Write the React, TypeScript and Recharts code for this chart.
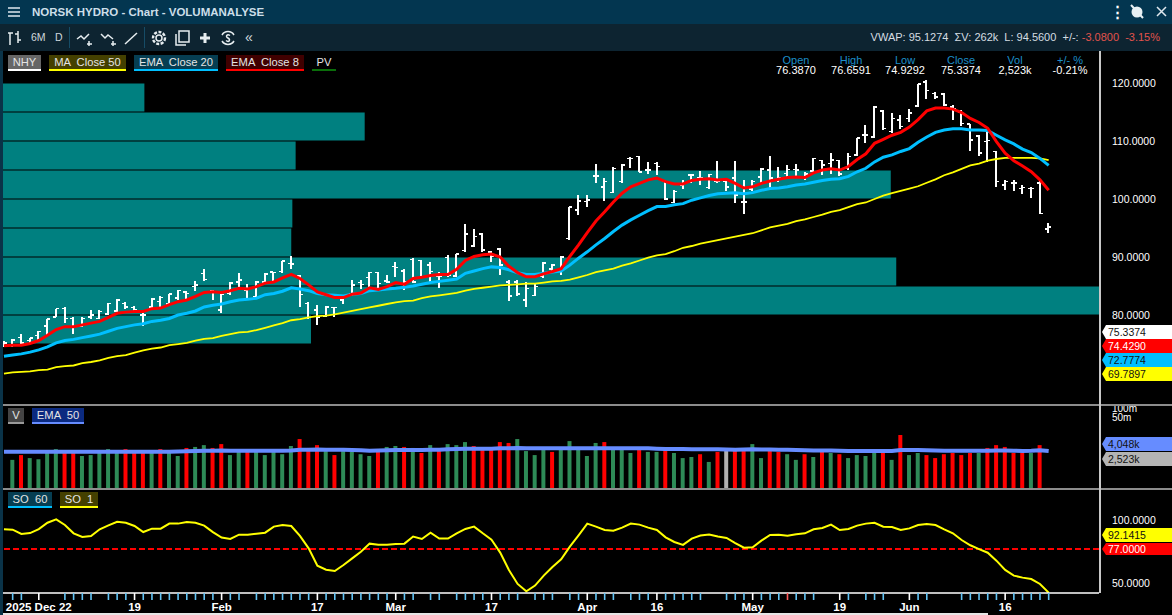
import { ComposedChart, XAxis, YAxis, Bar, Line, Cell, ReferenceArea, ReferenceLine } from 'recharts'

// Daily bars, index 0 is the first session on the left edge
const openPrices = [
  74.8, 74.8, 76.1, 75.6, 76.5, 78.1, 79.7, 81.1, 79.4, 78.1,
  79.7, 79.4, 80.2, 80.7, 82.0, 81.3, 80.0, 81.4, 82.3, 81.9,
  82.9, 84.0, 84.9, 87.2, 84.2, 80.9, 83.7, 85.7, 84.3, 83.2,
  85.7, 87.4, 87.5, 88.9, 86.7, 82.0, 80.9, 79.8, 81.3, 82.6,
  83.6, 85.6, 86.5, 87.3, 85.9, 88.4, 87.6, 89.6, 89.4, 88.6,
  86.6, 89.9, 86.7, 91.1, 91.9, 94.0, 90.9, 91.4, 85.7, 85.7,
  82.6, 83.4, 86.6, 87.9, 87.5, 93.2, 98.1, 99.6, 104.0, 102.1,
  101.1, 103.0, 107.0, 107.3, 105.0, 106.1, 103.0, 99.4, 102.4, 104.1,
  103.7, 102.0, 103.0, 103.0, 103.6, 99.5, 101.7, 103.8, 105.0, 103.3,
  104.4, 105.1, 103.8, 104.8, 106.6, 106.1, 106.6, 105.3, 107.6, 111.0,
  110.7, 115.2, 111.6, 113.6, 113.9, 116.0, 120.2, 118.2, 118.1, 115.9,
  115.0, 112.9, 110.9, 109.9, 108.2, 102.4, 102.8, 101.8, 101.8, 102.8,
  94.8,
]
const highPrices = [
  75.6, 75.8, 76.8, 76.1, 77.3, 79.4, 81.1, 81.3, 79.6, 79.6,
  80.8, 80.8, 82.1, 82.7, 82.2, 81.6, 80.9, 82.9, 83.2, 83.7,
  84.4, 84.2, 85.9, 87.9, 84.4, 83.6, 85.7, 87.2, 85.4, 85.9,
  87.2, 87.5, 89.4, 90.2, 86.9, 82.2, 81.7, 81.6, 81.4, 83.1,
  86.1, 86.0, 87.5, 87.5, 86.9, 89.2, 88.0, 89.8, 89.5, 89.1,
  87.5, 90.3, 90.6, 95.7, 94.9, 94.2, 91.1, 91.5, 86.0, 86.0,
  85.7, 85.3, 89.2, 88.8, 90.1, 98.7, 100.7, 100.7, 106.0, 103.6,
  105.5, 106.0, 107.3, 107.4, 106.4, 106.4, 103.3, 101.6, 103.3, 104.3,
  104.8, 104.4, 106.5, 103.6, 106.5, 103.2, 103.2, 105.3, 107.4, 105.5,
  105.9, 106.0, 104.7, 107.1, 106.7, 107.9, 106.7, 108.0, 110.6, 112.8,
  116.0, 115.3, 114.8, 114.5, 115.5, 119.9, 120.5, 118.5, 118.3, 116.2,
  115.3, 113.0, 111.0, 112.0, 108.3, 103.3, 103.3, 102.4, 102.0, 103.2,
  95.8,
]
const lowPrices = [
  74.5, 74.5, 74.7, 75.0, 75.4, 76.5, 79.6, 78.7, 76.8, 77.9,
  79.4, 79.3, 80.0, 80.5, 81.1, 80.6, 78.1, 81.1, 81.1, 81.7,
  82.6, 82.7, 84.1, 85.9, 82.6, 80.4, 83.5, 84.6, 82.9, 83.0,
  85.5, 85.7, 87.3, 88.0, 81.3, 79.3, 78.3, 79.6, 79.7, 81.9,
  83.2, 84.5, 84.9, 84.6, 85.5, 86.6, 84.3, 85.5, 86.5, 85.5,
  84.6, 86.6, 86.5, 90.9, 91.8, 90.9, 89.2, 86.9, 82.5, 83.2,
  81.3, 83.2, 86.3, 87.6, 86.9, 92.9, 97.2, 98.7, 102.7, 99.7,
  101.0, 102.8, 105.4, 104.6, 104.4, 104.1, 99.8, 99.3, 101.7, 102.7,
  102.4, 101.8, 102.7, 101.3, 99.4, 97.4, 101.4, 102.7, 101.8, 103.0,
  103.8, 103.8, 103.2, 104.7, 104.1, 104.4, 104.0, 105.0, 107.4, 109.6,
  110.5, 111.9, 111.3, 112.0, 113.3, 115.9, 117.3, 117.2, 116.0, 113.7,
  112.6, 108.2, 107.4, 106.4, 102.0, 101.6, 101.3, 100.9, 100.1, 97.4,
  94.2,
]
const closePrices = [
  75.2, 75.7, 75.2, 76.0, 77.2, 79.3, 81.1, 79.4, 78.0, 79.4,
  80.0, 80.6, 82.0, 82.6, 81.4, 80.9, 80.0, 82.8, 83.0, 83.6,
  84.2, 83.7, 85.2, 86.1, 84.0, 83.5, 85.5, 86.0, 84.6, 85.7,
  87.1, 87.3, 89.3, 88.8, 83.5, 79.6, 79.7, 81.4, 81.3, 83.0,
  85.2, 85.3, 87.3, 85.4, 85.7, 88.2, 85.7, 85.7, 86.6, 87.5,
  86.6, 86.9, 90.5, 94.0, 93.5, 91.2, 90.1, 88.6, 83.3, 83.6,
  84.6, 84.9, 89.0, 88.6, 90.0, 98.6, 99.7, 99.8, 104.0, 103.0,
  105.3, 105.9, 107.0, 104.7, 105.0, 105.6, 100.0, 101.3, 102.7, 104.1,
  103.6, 104.2, 103.0, 102.1, 100.7, 99.5, 103.0, 105.2, 103.6, 103.6,
  105.1, 105.0, 104.3, 107.0, 105.9, 106.7, 104.3, 107.3, 110.5, 111.0,
  115.9, 112.2, 113.9, 112.5, 114.8, 119.8, 118.7, 117.6, 116.2, 115.6,
  113.0, 110.2, 107.9, 110.1, 103.0, 103.0, 102.8, 102.0, 101.8, 97.5,
  95.2,
]
const emaClose8 = [
  74.7, 74.8, 74.8, 75.1, 75.6, 76.5, 77.5, 78.0, 78.0, 78.3,
  78.6, 78.9, 79.6, 80.3, 80.5, 80.6, 80.6, 81.1, 81.2, 81.8,
  82.3, 82.6, 83.2, 83.9, 84.0, 83.9, 84.2, 84.6, 84.5, 84.9,
  85.5, 85.7, 86.4, 87.0, 86.3, 85.2, 84.0, 83.5, 83.0, 83.0,
  83.6, 83.8, 84.7, 84.4, 84.9, 85.6, 85.3, 86.3, 86.5, 86.8,
  87.0, 87.0, 87.9, 89.4, 90.1, 90.4, 90.5, 90.0, 88.4, 87.3,
  86.6, 86.6, 87.1, 87.5, 88.0, 90.1, 92.1, 94.2, 96.2, 97.8,
  99.5, 101.0, 102.1, 102.7, 103.3, 103.6, 103.0, 102.6, 102.6, 103.2,
  103.4, 103.5, 103.3, 103.4, 102.7, 101.9, 102.1, 102.7, 103.1, 103.4,
  103.7, 103.8, 103.7, 104.5, 105.0, 105.2, 105.0, 105.6, 106.8, 107.8,
  109.6, 110.3, 111.0, 111.5, 112.4, 113.7, 115.2, 115.7, 115.7, 115.5,
  114.9, 113.9, 113.2, 112.2, 109.9, 107.9, 106.6, 105.7, 104.7, 103.3,
  101.5,
]
const emaClose20 = [
  72.9, 73.1, 73.3, 73.6, 74.0, 74.5, 75.2, 75.6, 75.8, 76.1,
  76.4, 76.7, 77.2, 77.7, 78.0, 78.3, 78.5, 78.9, 79.1, 79.4,
  80.0, 80.3, 80.7, 81.4, 81.7, 81.9, 82.3, 82.6, 82.7, 82.9,
  83.5, 83.7, 84.1, 84.7, 84.5, 84.2, 83.7, 83.5, 83.4, 83.3,
  83.6, 83.7, 84.2, 84.3, 84.5, 84.6, 84.8, 85.0, 85.3, 85.6,
  85.8, 86.0, 86.2, 87.2, 87.6, 88.0, 88.3, 88.2, 87.8, 87.3,
  87.0, 87.0, 87.2, 87.4, 87.6, 88.6, 89.8, 90.9, 92.1, 93.2,
  94.4, 95.5, 96.4, 97.2, 98.0, 98.7, 98.7, 99.0, 99.2, 99.8,
  100.2, 100.6, 100.9, 101.0, 101.1, 100.9, 101.1, 101.5, 101.8, 101.9,
  102.1, 102.4, 102.6, 102.9, 103.2, 103.4, 103.5, 103.9, 104.7, 105.3,
  106.4, 107.2, 107.6, 108.2, 108.7, 109.8, 110.7, 111.5, 111.9, 112.1,
  112.1, 111.9, 111.9, 111.8, 111.0, 110.2, 109.5, 108.6, 108.0, 107.0,
  105.8,
]
const maClose50 = [
  69.9, 70.1, 70.2, 70.3, 70.5, 70.6, 71.0, 71.2, 71.3, 71.7,
  71.9, 72.2, 72.6, 72.9, 73.1, 73.5, 73.9, 74.2, 74.4, 74.8,
  75.0, 75.2, 75.6, 75.9, 76.0, 76.4, 76.7, 77.0, 77.1, 77.4,
  77.8, 78.2, 78.6, 79.1, 79.3, 79.6, 79.8, 79.9, 80.1, 80.4,
  80.7, 81.0, 81.3, 81.6, 81.9, 82.2, 82.4, 82.5, 82.9, 83.2,
  83.4, 83.6, 83.8, 84.2, 84.5, 84.7, 84.9, 85.1, 85.2, 85.3,
  85.4, 85.4, 85.6, 85.8, 85.9, 86.1, 86.5, 86.9, 87.4, 87.7,
  88.0, 88.5, 88.9, 89.4, 89.9, 90.3, 90.5, 91.0, 91.6, 91.9,
  92.3, 92.6, 92.9, 93.2, 93.5, 93.8, 94.1, 94.6, 95.1, 95.4,
  95.7, 96.2, 96.5, 96.9, 97.3, 97.8, 98.1, 98.6, 99.1, 99.4,
  100.0, 100.6, 101.0, 101.4, 101.8, 102.2, 102.8, 103.4, 104.1, 104.6,
  105.2, 105.8, 106.1, 106.6, 106.9, 107.1, 107.1, 107.1, 107.1, 107.0,
  106.7,
]
// Volume in millions, drawn on a log axis
const volumes = [
  null, 2.1, 3.0, 2.4, 2.2, 3.5, 4.7, 3.5, 3.5, 2.8,
  3.0, 3.5, 4.7, 3.5, 4.7, 3.5, 3.5, 3.5, 4.7, 3.5,
  2.8, 5.1, 5.5, 6.3, 5.1, 6.8, 3.0, 3.8, 3.8, 3.8,
  3.0, 3.8, 3.2, 5.9, 9.9, 5.1, 6.3, 4.05, 3.0, 4.05,
  3.8, 3.2, 2.8, 4.4, 5.5, 5.9, 5.5, 5.1, 3.5, 6.3,
  4.7, 6.8, 6.3, 7.9, 5.9, 4.4, 4.4, 7.9, 7.4, 9.9,
  4.05, 3.0, 4.7, 3.8, 4.7, 8.5, 5.1, 2.8, 7.4, 7.9,
  5.1, 5.1, 3.5, 5.1, 3.8, 3.8, 4.7, 3.5, 2.4, 2.6,
  3.2, 1.8, 3.8, 4.4, 4.4, 4.4, 6.8, 2.4, 4.4, 3.8,
  3.2, 2.1, 3.2, 2.6, 3.8, 3.5, 3.2, 2.4, 3.0, 2.8,
  3.5, 3.5, 2.1, 13.4, 3.0, 3.5, 3.0, 2.4, 3.2, 3.5,
  3.0, 3.5, 3.5, 5.1, 6.3, 5.5, 3.5, 3.5, 3.5, 6.3,
  0.26,
]
const volumeKinds = [
  'x', 'g', 'r', 'g', 'g', 'g', 'g', 'r', 'r', 'g',
  'g', 'g', 'g', 'g', 'r', 'r', 'r', 'g', 'r', 'g',
  'g', 'r', 'g', 'g', 'r', 'r', 'g', 'g', 'r', 'g',
  'g', 'g', 'g', 'g', 'r', 'r', 'r', 'g', 'r', 'g',
  'g', 'g', 'g', 'r', 'g', 'g', 'r', 'g', 'r', 'g',
  'r', 'g', 'g', 'g', 'r', 'r', 'r', 'r', 'r', 'g',
  'g', 'g', 'g', 'r', 'g', 'g', 'g', 'g', 'g', 'r',
  'g', 'g', 'g', 'r', 'g', 'g', 'r', 'g', 'g', 'g',
  'r', 'g', 'r', 'x', 'r', 'r', 'g', 'g', 'r', 'r',
  'g', 'g', 'r', 'g', 'r', 'g', 'r', 'g', 'g', 'g',
  'g', 'r', 'g', 'r', 'g', 'g', 'r', 'r', 'r', 'r',
  'r', 'r', 'g', 'r', 'r', 'r', 'r', 'r', 'g', 'r',
  'r',
]
const volumeEma50 = [
  3.85, 3.85, 3.85, 3.85, 3.85, 3.85, 3.85, 3.85, 3.85, 3.85,
  3.85, 3.85, 3.85, 3.85, 3.85, 3.85, 3.85, 3.85, 3.85, 3.85,
  3.9, 4.0, 4.1, 4.15, 4.15, 4.2, 4.15, 4.15, 4.15, 4.15,
  4.15, 4.15, 4.15, 4.2, 4.5, 4.5, 4.55, 4.5, 4.5, 4.45,
  4.4, 4.3, 4.15, 4.2, 4.3, 4.4, 4.4, 4.4, 4.4, 4.45,
  4.5, 4.6, 4.7, 4.8, 4.85, 4.85, 4.85, 4.95, 5.0, 5.05,
  5.0, 4.95, 4.95, 4.95, 4.95, 5.0, 5.0, 4.95, 5.0, 5.0,
  5.0, 5.0, 5.0, 5.0, 4.95, 4.85, 4.75, 4.7, 4.7, 4.65,
  4.65, 4.6, 4.6, 4.55, 4.5, 4.55, 4.6, 4.55, 4.55, 4.5,
  4.5, 4.4, 4.3, 4.25, 4.2, 4.2, 4.15, 4.1, 4.1, 4.1,
  4.1, 4.1, 4.1, 4.4, 4.4, 4.35, 4.3, 4.2, 4.15, 4.15,
  4.15, 4.15, 4.15, 4.15, 4.2, 4.2, 4.15, 4.1, 4.15, 4.3,
  4.05,
]
const stochastic = [
  92.6, 92.3, 88.9, 89.6, 92.8, 97.8, 100.5, 96.0, 89.4, 86.5,
  87.3, 92.6, 95.7, 98.6, 97.8, 95.2, 90.4, 93.1, 93.1, 97.1,
  97.1, 98.4, 97.8, 95.5, 90.4, 86.0, 84.9, 88.3, 88.3, 89.1,
  89.9, 94.7, 96.0, 95.2, 87.3, 77.5, 63.7, 60.5, 59.5, 64.2,
  69.5, 74.8, 81.2, 80.4, 80.4, 80.9, 81.2, 86.8, 84.9, 89.9,
  85.2, 85.2, 89.4, 92.9, 94.7, 89.4, 84.4, 74.1, 60.3, 49.2,
  43.4, 47.9, 55.8, 62.7, 68.8, 78.8, 87.8, 97.1, 94.7, 92.1,
  91.5, 93.9, 97.1, 96.3, 93.9, 92.1, 86.2, 82.5, 80.2, 85.2,
  87.6, 88.4, 86.8, 85.7, 81.7, 78.0, 78.3, 83.6, 88.1, 88.3,
  87.5, 88.6, 89.4, 92.6, 93.6, 96.3, 92.0, 92.8, 95.5, 97.1,
  97.8, 94.7, 94.4, 92.0, 93.3, 96.0, 96.8, 96.0, 92.6, 89.4,
  84.1, 79.9, 76.9, 74.0, 67.7, 60.3, 55.8, 54.2, 53.1, 49.2,
  42.3,
]

// Price volume: buckets 5 wide, share of the plot width in percent
const profileLows = [115, 110, 105, 100, 95, 90, 85, 80, 75]
const profileShares = [12.9, 33.0, 26.7, 81.0, 26.4, 26.3, 81.5, 100, 28.1]

const priceTicks = [80, 90, 100, 110, 120]
const volumeTicks = [50, 100]
const soTicks = [50, 100]
const soLevel = 77

const dateLabels: Record<number, string> = {
  4: '2025 Dec 22', 15: '19', 25: 'Feb', 36: '17', 45: 'Mar', 56: '17',
  67: 'Apr', 75: '16', 86: 'May', 96: '19', 104: 'Jun', 115: '16',
}
const dayTicks = [
  1, 2, 4, 7, 8, 9, 10, 12, 13, 14, 15, 16, 17, 18, 19, 20, 21, 22, 23, 24, 25, 26, 27,
  29, 30, 31, 32, 33, 34, 35, 36, 37, 38, 39, 40, 41, 42, 43, 44, 45, 46, 47, 49, 50,
  52, 53, 54, 55, 56, 57, 58, 59, 61, 62, 63, 65, 66, 67, 68, 69, 70, 72, 73, 74, 75,
  76, 77, 78, 79, 80, 83, 84, 85, 86, 87, 88, 89, 90, 91, 92, 93, 96, 97, 99, 100, 101,
  104, 105, 106, 110, 111, 112, 113, 114, 115, 116, 117, 118, 119, 120,
]

const rows = closePrices.map((close, i) => ({
  i,
  open: openPrices[i],
  high: highPrices[i],
  low: lowPrices[i],
  close,
  ema8: emaClose8[i],
  ema20: emaClose20[i],
  ma50: maClose50[i],
  vol: volumes[i],
  volEma: volumeEma50[i],
  so: stochastic[i],
}))

const WIDTH = 1172
const DAY_DOMAIN: [number, number] = [-0.11, 125.78]
const FONT = '"Liberation Sans", Arial, sans-serif'
const BAR_COLORS: Record<string, string> = { g: '#2e8b57', r: '#ff0000', x: '#b0b0b0' }

// rows of the price profile run from the left edge, so they share the day axis
const shareToDay = (share: number) => DAY_DOMAIN[0] + (share / 100) * (DAY_DOMAIN[1] - DAY_DOMAIN[0])

function OhlcBar(props: any) {
  const { x, y, width, height, payload } = props
  const cx = x + width / 2
  const at = (v: number) => y + (height * (payload.high - v)) / (payload.high - payload.low)
  return (
    <g stroke="#fff" shapeRendering="crispEdges">
      <line x1={cx} x2={cx} y1={y} y2={y + height} strokeWidth={2} />
      <line x1={cx - 3} x2={cx} y1={at(payload.open)} y2={at(payload.open)} strokeWidth={1.5} />
      <line x1={cx} x2={cx + 3} y1={at(payload.close)} y2={at(payload.close)} strokeWidth={1.5} />
    </g>
  )
}

function DayTick(props: any) {
  const { x, y, payload } = props
  const label = dateLabels[payload.value]
  const color = payload.value === 90 ? '#ff5a5a' : label ? '#ffffff' : '#62c4f5'
  return (
    <g>
      <line x1={x} x2={x} y1={y} y2={y + 7} stroke={color} strokeWidth={1.6} />
      {label && (
        <text x={x} y={y + 17.5} textAnchor="middle" fill="#fff" fontSize={11.5} fontWeight="bold" fontFamily={FONT}>
          {label}
        </text>
      )}
    </g>
  )
}

function Chip({ left, top, width, text, bg, line }: any) {
  return (
    <div style={{
      position: 'absolute', left, top, width, height: 14, background: bg, borderBottom: `2px solid ${line}`,
      color: '#e4e4e4', fontSize: 11.2, lineHeight: '14px', textAlign: 'center', whiteSpace: 'pre',
    }}>{text}</div>
  )
}

function Flag({ top, height, text, bg, color }: any) {
  return (
    <div style={{
      position: 'absolute', left: 1102, top, width: 70, height, background: bg, color,
      clipPath: 'polygon(0 50%, 4px 0, 100% 0, 100% 100%, 4px 100%)',
      fontSize: 10.5, lineHeight: `${height}px`, paddingLeft: 6, boxSizing: 'border-box',
    }}>{text}</div>
  )
}

function Stat({ center, label, value }: any) {
  return (
    <div style={{ position: 'absolute', left: center - 35, top: 55, width: 70, textAlign: 'center', fontSize: 11, lineHeight: '10px' }}>
      <div style={{ color: '#1c8fc9' }}>{label}</div>
      <div style={{ color: '#fff' }}>{value}</div>
    </div>
  )
}

function Icon({ left, children }: any) {
  return (
    <svg width={20} height={20} viewBox="0 0 20 20" fill="none" stroke="#e6edf0" strokeWidth={1.5}
      style={{ position: 'absolute', left, top: 28 }}>
      {children}
    </svg>
  )
}

export default function App() {
  return (
    <div style={{ position: 'fixed', left: 0, top: 0, width: WIDTH, height: 615, overflow: 'hidden', background: '#000', fontFamily: FONT }}>
      {/* window chrome */}
      <div style={{ position: 'absolute', left: 0, top: 0, width: WIDTH, height: 24, background: '#033650' }} />
      <div style={{ position: 'absolute', left: 0, top: 24, width: WIDTH, height: 27, background: '#0d2431' }} />
      <div style={{ position: 'absolute', left: 0, top: 51, width: 3, height: 564, background: '#0a3348' }} />
      <svg width={14} height={10} style={{ position: 'absolute', left: 8, top: 7 }}>
        <path d="M0 1H12M0 5H12M0 9H12" stroke="#dfe8ee" strokeWidth={1.6} />
      </svg>
      <div style={{ position: 'absolute', left: 32, top: 5, color: '#cddfe9', fontSize: 11.5, fontWeight: 'bold', lineHeight: '14px' }}>
        NORSK HYDRO - Chart - VOLUMANALYSE
      </div>
      <div style={{ position: 'absolute', left: 1110, top: 4, color: '#fff', fontSize: 15, fontWeight: 'bold', lineHeight: '16px' }}>⋮</div>
      <svg width={16} height={16} style={{ position: 'absolute', left: 1129, top: 4 }}>
        <circle cx={8} cy={8} r={5.5} fill="#e8f0f4" />
        <path d="M2 1L14 14" stroke="#e8f0f4" strokeWidth={2} />
      </svg>
      <svg width={12} height={12} style={{ position: 'absolute', left: 1156, top: 6 }}>
        <path d="M1 1L10 10M10 1L1 10" stroke="#dfe8ee" strokeWidth={1.5} />
      </svg>

      <Icon left={5}><path d="M5 17V5M5 5H3M5 5h3M13 15V3M13 6h-3M13 12h3" /></Icon>
      <div style={{ position: 'absolute', left: 31, top: 31, color: '#cfd8dc', fontSize: 10.5, lineHeight: '12px' }}>6M</div>
      <div style={{ position: 'absolute', left: 55, top: 31, color: '#cfd8dc', fontSize: 10.5, lineHeight: '12px' }}>D</div>
      <div style={{ position: 'absolute', left: 69, top: 27, width: 1, height: 21, background: '#164c66' }} />
      <Icon left={75}><path d="M2 11l4-3 3 3 5-5M14 13v5M12 16h5" /></Icon>
      <Icon left={99}><path d="M2 6l4 4 3-3 5 4M14 13v5M12 16h5" /></Icon>
      <Icon left={122}><path d="M3 16L15 5" /></Icon>
      <div style={{ position: 'absolute', left: 144, top: 27, width: 1, height: 21, background: '#164c66' }} />
      <Icon left={149}><circle cx={10} cy={10} r={3} /><circle cx={10} cy={10} r={6} strokeDasharray="3 1.5" strokeWidth={2.4} /></Icon>
      <Icon left={173}><path d="M6 3h10v11H6zM3 6v11h10" /></Icon>
      <Icon left={195}><path d="M10 5v10M5 10h10" strokeWidth={3} /></Icon>
      <Icon left={218}><path d="M4 7a7 7 0 0 1 12 0M16 13a7 7 0 0 1-12 0M12 7.5c-3-2-5 1-2 2.5s1 5-2 2.5" /></Icon>
      <div style={{ position: 'absolute', left: 245, top: 29, color: '#cfd8dc', fontSize: 14, lineHeight: '16px' }}>«</div>

      <div style={{ position: 'absolute', right: 12, top: 31, color: '#d5dde2', fontSize: 11, lineHeight: '13px', whiteSpace: 'pre' }}>
        {'VWAP: 95.1274  ΣV: 262k  L: 94.5600  +/-: '}
        <span style={{ color: '#e2534c' }}>{'-3.0800  -3.15%'}</span>
      </div>

      {/* price panel */}
      <div style={{ position: 'absolute', left: 0, top: 51 }}>
        <ComposedChart width={WIDTH} height={353} data={rows} margin={{ top: 0, right: 0, bottom: 0, left: 3 }}>
          <XAxis dataKey="i" type="number" domain={DAY_DOMAIN} allowDataOverflow hide />
          <YAxis orientation="right" width={73} domain={[64.66, 125.52]} allowDataOverflow ticks={priceTicks} interval={0}
            axisLine={false} tickLine={false} tickMargin={7}
            tick={{ fill: '#fff', fontSize: 10.5, fontFamily: FONT }} tickFormatter={(v: number) => v.toFixed(4)} />
          {profileLows.map((low, k) => (
            <ReferenceArea key={low} x1={DAY_DOMAIN[0]} x2={shareToDay(profileShares[k])} y1={low + 0.1} y2={low + 4.9} fill="#008080" fillOpacity={1} stroke="none" />
          ))}
          <Bar dataKey={(d: any) => [d.low, d.high]} barSize={4} shape={OhlcBar} isAnimationActive={false} />
          <Line dataKey="ma50" stroke="#ffff00" strokeWidth={1.8} dot={false} isAnimationActive={false} />
          <Line dataKey="ema20" stroke="#00bfff" strokeWidth={3} dot={false} isAnimationActive={false} />
          <Line dataKey="ema8" stroke="#ff0000" strokeWidth={3} dot={false} isAnimationActive={false} />
        </ComposedChart>
      </div>

      {/* volume panel, the svg starts higher so the 100m label is not clipped */}
      <div style={{ position: 'absolute', left: 0, top: 396 }}>
        <ComposedChart width={WIDTH} height={93} data={rows} margin={{ top: 10, right: 0, bottom: 0, left: 3 }}>
          <XAxis dataKey="i" type="number" domain={DAY_DOMAIN} allowDataOverflow hide />
          <YAxis orientation="right" width={73} scale="log" domain={[0.24, 116]} allowDataOverflow ticks={volumeTicks} interval={0}
            axisLine={false} tickLine={false} tickMargin={7}
            tick={{ fill: '#fff', fontSize: 10, fontFamily: FONT }} tickFormatter={(v: number) => `${v}m`} />
          <Bar dataKey="vol" barSize={4} isAnimationActive={false}>
            {volumeKinds.map((kind, i) => <Cell key={i} fill={BAR_COLORS[kind]} />)}
          </Bar>
          <Line dataKey="volEma" stroke="#668cff" strokeWidth={4} dot={false} isAnimationActive={false} />
        </ComposedChart>
      </div>

      {/* stochastic panel with the date axis */}
      <div style={{ position: 'absolute', left: 0, top: 490 }}>
        <ComposedChart width={WIDTH} height={125} data={rows} margin={{ top: 0, right: 0, bottom: 0, left: 3 }}>
          <XAxis dataKey="i" type="number" domain={DAY_DOMAIN} allowDataOverflow height={22} ticks={dayTicks} interval={0}
            axisLine={{ stroke: '#fff', strokeWidth: 1.5 }} tickLine={false} tickSize={0} tickMargin={0} tick={DayTick} />
          <YAxis orientation="right" width={73} domain={[42, 123.8]} allowDataOverflow ticks={soTicks} interval={0}
            axisLine={false} tickLine={false} tickMargin={7}
            tick={{ fill: '#fff', fontSize: 10.5, fontFamily: FONT }} tickFormatter={(v: number) => v.toFixed(4)} />
          <ReferenceLine y={soLevel} stroke="#ff0000" strokeWidth={2} strokeDasharray="6 3" />
          <Line dataKey="so" stroke="#ffff00" strokeWidth={2} dot={false} isAnimationActive={false} />
        </ComposedChart>
      </div>

      {/* separators */}
      <div style={{ position: 'absolute', left: 3, top: 404, width: WIDTH - 3, height: 2, background: '#8c8c8c' }} />
      <div style={{ position: 'absolute', left: 3, top: 488, width: WIDTH - 3, height: 2, background: '#8c8c8c' }} />
      <div style={{ position: 'absolute', left: 1099, top: 51, width: 1.5, height: 542, background: '#c8c8c8' }} />
      <div style={{ position: 'absolute', left: 3, top: 613, width: 985, height: 2, background: '#e6e6e6' }} />

      {/* legends */}
      <Chip left={8} top={55} width={33} text="NHY" bg="#666" line="#fff" />
      <Chip left={49} top={55} width={77} text="MA  Close 50" bg="#444000" line="#ffff00" />
      <Chip left={134} top={55} width={84} text="EMA  Close 20" bg="#063e52" line="#00bfff" />
      <Chip left={226} top={55} width={78} text="EMA  Close 8" bg="#400000" line="#ff0000" />
      <Chip left={312} top={55} width={24} text="PV" bg="transparent" line="#0a6e0a" />
      <Chip left={8} top={408} width={16} text="V" bg="#444" line="#999" />
      <Chip left={32} top={408} width={52} text="EMA  50" bg="#0b2a80" line="#668cff" />
      <Chip left={8} top={492} width={44} text="SO  60" bg="#063e52" line="#00bfff" />
      <Chip left={60} top={492} width={38} text="SO  1" bg="#444000" line="#ffff00" />

      <Stat center={796} label="Open" value="76.3870" />
      <Stat center={851} label="High" value="76.6591" />
      <Stat center={905} label="Low" value="74.9292" />
      <Stat center={961} label="Close" value="75.3374" />
      <Stat center={1015} label="Vol" value="2,523k" />
      <Stat center={1070} label="+/- %" value="-0.21%" />

      <Flag top={325} height={14} text="75.3374" bg="#fff" color="#111" />
      <Flag top={339} height={14} text="74.4290" bg="#ff0000" color="#fff" />
      <Flag top={353} height={14} text="72.7774" bg="#00bfff" color="#111" />
      <Flag top={367} height={14} text="69.7897" bg="#ffff00" color="#111" />
      <Flag top={437} height={14} text="4,048k" bg="#668cff" color="#111" />
      <Flag top={452} height={14} text="2,523k" bg="#b4b4b4" color="#111" />
      <Flag top={528} height={14} text="92.1415" bg="#ffff00" color="#111" />
      <Flag top={543} height={12} text="77.0000" bg="#ff0000" color="#fff" />
    </div>
  )
}
